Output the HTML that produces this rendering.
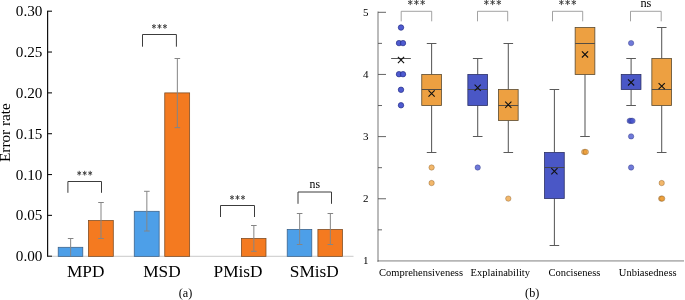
<!DOCTYPE html>
<html><head><meta charset="utf-8"><title>Figure</title>
<style>
html,body{margin:0;padding:0;background:#fff;}
body{width:685px;height:300px;overflow:hidden;font-family:"Liberation Serif",serif;}
svg{display:block;will-change:transform;opacity:0.999;}
svg text{font-family:"Liberation Serif",serif;fill:#000;}
</style></head><body>
<svg width="685" height="300" viewBox="0 0 685 300">
<rect width="685" height="300" fill="#fff"/>
<line x1="52" y1="256.40" x2="353.5" y2="256.40" stroke="#d4d4d4" stroke-width="1.1"/>
<rect x="58.20" y="247.30" width="24.60" height="9.05" fill="#4d9fe8" stroke="#3a5f86" stroke-width="0.75"/>
<rect x="88.40" y="220.50" width="24.90" height="35.85" fill="#f47a20" stroke="#7a4a22" stroke-width="0.75"/>
<rect x="134.25" y="211.30" width="24.90" height="45.05" fill="#4d9fe8" stroke="#3a5f86" stroke-width="0.75"/>
<rect x="164.75" y="92.90" width="24.90" height="163.45" fill="#f47a20" stroke="#7a4a22" stroke-width="0.75"/>
<rect x="241.40" y="238.40" width="24.60" height="17.95" fill="#f47a20" stroke="#7a4a22" stroke-width="0.75"/>
<rect x="287.20" y="229.40" width="24.60" height="26.95" fill="#4d9fe8" stroke="#3a5f86" stroke-width="0.75"/>
<rect x="317.90" y="229.40" width="24.60" height="26.95" fill="#f47a20" stroke="#7a4a22" stroke-width="0.75"/>
<path d="M70.65 238.50V256.00M67.85 238.50H73.45" stroke="#858585" stroke-width="1" fill="none"/>
<path d="M101.00 202.50V238.50M98.20 202.50H103.80M98.20 238.50H103.80" stroke="#858585" stroke-width="1" fill="none"/>
<path d="M146.85 191.30V231.00M144.05 191.30H149.65M144.05 231.00H149.65" stroke="#858585" stroke-width="1" fill="none"/>
<path d="M177.35 58.50V127.60M174.55 58.50H180.15M174.55 127.60H180.15" stroke="#858585" stroke-width="1" fill="none"/>
<path d="M253.85 225.50V251.30M251.05 225.50H256.65M251.05 251.30H256.65" stroke="#858585" stroke-width="1" fill="none"/>
<path d="M299.65 213.50V244.50M296.85 213.50H302.45M296.85 244.50H302.45" stroke="#858585" stroke-width="1" fill="none"/>
<path d="M330.35 213.50V244.50M327.55 213.50H333.15M327.55 244.50H333.15" stroke="#858585" stroke-width="1" fill="none"/>
<line x1="47.6" y1="10.70" x2="47.6" y2="256.80" stroke="#111" stroke-width="1.2"/>
<line x1="47.6" y1="256.20" x2="52" y2="256.20" stroke="#111" stroke-width="1.1"/>
<text x="42.4" y="261.30" font-size="15.2" text-anchor="end">0.00</text>
<line x1="47.6" y1="215.37" x2="52" y2="215.37" stroke="#111" stroke-width="1.1"/>
<text x="42.4" y="220.47" font-size="15.2" text-anchor="end">0.05</text>
<line x1="47.6" y1="174.53" x2="52" y2="174.53" stroke="#111" stroke-width="1.1"/>
<text x="42.4" y="179.63" font-size="15.2" text-anchor="end">0.10</text>
<line x1="47.6" y1="133.70" x2="52" y2="133.70" stroke="#111" stroke-width="1.1"/>
<text x="42.4" y="138.80" font-size="15.2" text-anchor="end">0.15</text>
<line x1="47.6" y1="92.87" x2="52" y2="92.87" stroke="#111" stroke-width="1.1"/>
<text x="42.4" y="97.97" font-size="15.2" text-anchor="end">0.20</text>
<line x1="47.6" y1="52.03" x2="52" y2="52.03" stroke="#111" stroke-width="1.1"/>
<text x="42.4" y="57.13" font-size="15.2" text-anchor="end">0.25</text>
<line x1="47.6" y1="11.20" x2="52" y2="11.20" stroke="#111" stroke-width="1.1"/>
<text x="42.4" y="16.30" font-size="15.2" text-anchor="end">0.30</text>
<text transform="translate(10.3 132.6) rotate(-90) scale(0.99 0.88)" font-size="15.4" text-anchor="middle">Error rate</text>
<text x="85.70" y="276.5" font-size="17.3" text-anchor="middle">MPD</text>
<text x="161.90" y="276.5" font-size="17.3" text-anchor="middle">MSD</text>
<text x="238.10" y="276.5" font-size="17.3" text-anchor="middle">PMisD</text>
<text x="314.30" y="276.5" font-size="17.3" text-anchor="middle">SMisD</text>
<text x="185.5" y="296.6" font-size="12.2" text-anchor="middle">(a)</text>
<path d="M67.90 192.80V181.50H101.50V192.80" stroke="#3c3c3c" stroke-width="1.0" fill="none"/>
<path d="M79.20 170.85L79.20 175.55M77.27 172.08L81.13 174.32M81.13 172.08L77.27 174.32" stroke="#3a3a3a" stroke-width="0.9" fill="none"/>
<path d="M84.70 170.85L84.70 175.55M82.77 172.08L86.63 174.32M86.63 172.08L82.77 174.32" stroke="#3a3a3a" stroke-width="0.9" fill="none"/>
<path d="M90.20 170.85L90.20 175.55M88.27 172.08L92.13 174.32M92.13 172.08L88.27 174.32" stroke="#3a3a3a" stroke-width="0.9" fill="none"/>
<path d="M142.50 46.70V34.50H176.40V46.70" stroke="#3c3c3c" stroke-width="1.0" fill="none"/>
<path d="M153.95 24.05L153.95 28.75M152.02 25.28L155.88 27.52M155.88 25.28L152.02 27.52" stroke="#3a3a3a" stroke-width="0.9" fill="none"/>
<path d="M159.45 24.05L159.45 28.75M157.52 25.28L161.38 27.52M161.38 25.28L157.52 27.52" stroke="#3a3a3a" stroke-width="0.9" fill="none"/>
<path d="M164.95 24.05L164.95 28.75M163.02 25.28L166.88 27.52M166.88 25.28L163.02 27.52" stroke="#3a3a3a" stroke-width="0.9" fill="none"/>
<path d="M220.50 217.00V205.50H254.50V217.00" stroke="#3c3c3c" stroke-width="1.0" fill="none"/>
<path d="M232.00 195.15L232.00 199.85M230.07 196.38L233.93 198.62M233.93 196.38L230.07 198.62" stroke="#3a3a3a" stroke-width="0.9" fill="none"/>
<path d="M237.50 195.15L237.50 199.85M235.57 196.38L239.43 198.62M239.43 196.38L235.57 198.62" stroke="#3a3a3a" stroke-width="0.9" fill="none"/>
<path d="M243.00 195.15L243.00 199.85M241.07 196.38L244.93 198.62M244.93 196.38L241.07 198.62" stroke="#3a3a3a" stroke-width="0.9" fill="none"/>
<path d="M298.00 203.80V192.00H331.50V203.80" stroke="#3c3c3c" stroke-width="1.0" fill="none"/>
<text x="314.75" y="187.80" font-size="11.8" text-anchor="middle" fill="#222">ns</text>
<line x1="378.0" y1="11.6" x2="378.0" y2="261.90" stroke="#b4b4b4" stroke-width="1.8"/>
<line x1="377.1" y1="260.80" x2="684" y2="260.80" stroke="#b6b6b6" stroke-width="1.7"/>
<line x1="377.7" y1="260.80" x2="379.0" y2="260.80" stroke="#666" stroke-width="0.9"/>
<text x="368.6" y="264.30" font-size="11" text-anchor="end">1</text>
<line x1="378.0" y1="229.83" x2="382.0" y2="229.83" stroke="#555" stroke-width="0.9"/>
<line x1="378.0" y1="198.75" x2="386.0" y2="198.75" stroke="#555" stroke-width="0.9"/>
<text x="368.6" y="202.15" font-size="11" text-anchor="end">2</text>
<line x1="378.0" y1="167.68" x2="382.0" y2="167.68" stroke="#555" stroke-width="0.9"/>
<line x1="378.0" y1="136.60" x2="386.0" y2="136.60" stroke="#555" stroke-width="0.9"/>
<text x="368.6" y="140.00" font-size="11" text-anchor="end">3</text>
<line x1="378.0" y1="105.52" x2="382.0" y2="105.52" stroke="#555" stroke-width="0.9"/>
<line x1="378.0" y1="74.45" x2="386.0" y2="74.45" stroke="#555" stroke-width="0.9"/>
<text x="368.6" y="77.85" font-size="11" text-anchor="end">4</text>
<line x1="378.0" y1="43.38" x2="382.0" y2="43.38" stroke="#555" stroke-width="0.9"/>
<line x1="378.0" y1="12.30" x2="386.0" y2="12.30" stroke="#555" stroke-width="0.9"/>
<text x="368.6" y="15.70" font-size="11" text-anchor="end">5</text>
<line x1="391.15" y1="58.50" x2="410.85" y2="58.50" stroke="#444" stroke-width="0.9"/>
<circle cx="401.00" cy="27.55" r="2.7" fill="#4653cd" fill-opacity="0.78" stroke="#1c2470" stroke-opacity="0.6" stroke-width="0.6"/>
<circle cx="401.00" cy="27.55" r="2.7" fill="#4653cd" fill-opacity="0.78" stroke="#1c2470" stroke-opacity="0.6" stroke-width="0.6"/>
<circle cx="399.00" cy="43.10" r="2.7" fill="#4653cd" fill-opacity="0.78" stroke="#1c2470" stroke-opacity="0.6" stroke-width="0.6"/>
<circle cx="399.00" cy="43.10" r="2.7" fill="#4653cd" fill-opacity="0.78" stroke="#1c2470" stroke-opacity="0.6" stroke-width="0.6"/>
<circle cx="403.00" cy="43.10" r="2.7" fill="#4653cd" fill-opacity="0.78" stroke="#1c2470" stroke-opacity="0.6" stroke-width="0.6"/>
<circle cx="403.00" cy="43.10" r="2.7" fill="#4653cd" fill-opacity="0.78" stroke="#1c2470" stroke-opacity="0.6" stroke-width="0.6"/>
<circle cx="399.00" cy="74.20" r="2.7" fill="#4653cd" fill-opacity="0.78" stroke="#1c2470" stroke-opacity="0.6" stroke-width="0.6"/>
<circle cx="399.00" cy="74.20" r="2.7" fill="#4653cd" fill-opacity="0.78" stroke="#1c2470" stroke-opacity="0.6" stroke-width="0.6"/>
<circle cx="403.00" cy="74.20" r="2.7" fill="#4653cd" fill-opacity="0.78" stroke="#1c2470" stroke-opacity="0.6" stroke-width="0.6"/>
<circle cx="403.00" cy="74.20" r="2.7" fill="#4653cd" fill-opacity="0.78" stroke="#1c2470" stroke-opacity="0.6" stroke-width="0.6"/>
<circle cx="401.00" cy="89.75" r="2.7" fill="#4653cd" fill-opacity="0.78" stroke="#1c2470" stroke-opacity="0.6" stroke-width="0.6"/>
<circle cx="401.00" cy="89.75" r="2.7" fill="#4653cd" fill-opacity="0.78" stroke="#1c2470" stroke-opacity="0.6" stroke-width="0.6"/>
<circle cx="401.00" cy="105.30" r="2.7" fill="#4653cd" fill-opacity="0.78" stroke="#1c2470" stroke-opacity="0.6" stroke-width="0.6"/>
<circle cx="401.00" cy="105.30" r="2.7" fill="#4653cd" fill-opacity="0.78" stroke="#1c2470" stroke-opacity="0.6" stroke-width="0.6"/>
<path d="M397.90 56.89L404.10 63.09M397.90 63.09L404.10 56.89" stroke="#111" stroke-width="1.1" fill="none"/>
<path d="M431.60 74.50V43.50M426.80 43.50H436.40" stroke="#5a5a5a" stroke-width="1.05" fill="none"/>
<path d="M431.60 105.50V152.50M426.80 152.50H436.40" stroke="#5a5a5a" stroke-width="1.05" fill="none"/>
<rect x="421.75" y="74.50" width="19.7" height="31.00" fill="#eda041" stroke="#5a4a30" stroke-width="0.8"/>
<line x1="421.75" y1="89.50" x2="441.45" y2="89.50" stroke="#444" stroke-width="0.9"/>
<circle cx="431.60" cy="167.50" r="2.7" fill="#ec9628" fill-opacity="0.69" stroke="#6a400c" stroke-opacity="0.55" stroke-width="0.6"/>
<circle cx="431.60" cy="183.05" r="2.7" fill="#ec9628" fill-opacity="0.69" stroke="#6a400c" stroke-opacity="0.55" stroke-width="0.6"/>
<path d="M428.50 90.48L434.70 96.68M428.50 96.68L434.70 90.48" stroke="#111" stroke-width="1.1" fill="none"/>
<path d="M477.70 74.50V58.50M472.90 58.50H482.50" stroke="#5a5a5a" stroke-width="1.05" fill="none"/>
<path d="M477.70 105.50V136.50M472.90 136.50H482.50" stroke="#5a5a5a" stroke-width="1.05" fill="none"/>
<rect x="467.85" y="74.50" width="19.7" height="31.00" fill="#4a57c6" stroke="#2b3066" stroke-width="0.8"/>
<line x1="467.85" y1="89.50" x2="487.55" y2="89.50" stroke="#444" stroke-width="0.9"/>
<circle cx="477.70" cy="167.50" r="2.7" fill="#4653cd" fill-opacity="0.78" stroke="#1c2470" stroke-opacity="0.6" stroke-width="0.6"/>
<path d="M474.60 84.57L480.80 90.77M474.60 90.77L480.80 84.57" stroke="#111" stroke-width="1.1" fill="none"/>
<path d="M508.30 89.50V43.50M503.50 43.50H513.10" stroke="#5a5a5a" stroke-width="1.05" fill="none"/>
<path d="M508.30 120.50V152.50M503.50 152.50H513.10" stroke="#5a5a5a" stroke-width="1.05" fill="none"/>
<rect x="498.45" y="89.50" width="19.7" height="31.00" fill="#eda041" stroke="#5a4a30" stroke-width="0.8"/>
<line x1="498.45" y1="105.50" x2="518.15" y2="105.50" stroke="#444" stroke-width="0.9"/>
<circle cx="508.30" cy="198.60" r="2.7" fill="#ec9628" fill-opacity="0.69" stroke="#6a400c" stroke-opacity="0.55" stroke-width="0.6"/>
<path d="M505.20 101.68L511.40 107.88M505.20 107.88L511.40 101.68" stroke="#111" stroke-width="1.1" fill="none"/>
<path d="M554.40 152.50V89.50M549.60 89.50H559.20" stroke="#5a5a5a" stroke-width="1.05" fill="none"/>
<path d="M554.40 198.50V245.50M549.60 245.50H559.20" stroke="#5a5a5a" stroke-width="1.05" fill="none"/>
<rect x="544.55" y="152.50" width="19.7" height="46.00" fill="#4a57c6" stroke="#2b3066" stroke-width="0.8"/>
<line x1="544.55" y1="167.50" x2="564.25" y2="167.50" stroke="#444" stroke-width="0.9"/>
<path d="M551.30 168.23L557.50 174.43M551.30 174.43L557.50 168.23" stroke="#111" stroke-width="1.1" fill="none"/>
<path d="M585.00 74.50V136.50M580.20 136.50H589.80" stroke="#5a5a5a" stroke-width="1.05" fill="none"/>
<rect x="575.15" y="27.50" width="19.7" height="47.00" fill="#eda041" stroke="#5a4a30" stroke-width="0.8"/>
<line x1="575.15" y1="43.50" x2="594.85" y2="43.50" stroke="#444" stroke-width="0.9"/>
<circle cx="584.20" cy="151.95" r="2.7" fill="#ec9628" fill-opacity="0.69" stroke="#6a400c" stroke-opacity="0.55" stroke-width="0.6"/>
<circle cx="585.80" cy="151.95" r="2.7" fill="#ec9628" fill-opacity="0.69" stroke="#6a400c" stroke-opacity="0.55" stroke-width="0.6"/>
<path d="M581.90 51.30L588.10 57.50M581.90 57.50L588.10 51.30" stroke="#111" stroke-width="1.1" fill="none"/>
<path d="M631.10 74.50V58.50M626.30 58.50H635.90" stroke="#5a5a5a" stroke-width="1.05" fill="none"/>
<path d="M631.10 89.50V105.50M626.30 105.50H635.90" stroke="#5a5a5a" stroke-width="1.05" fill="none"/>
<rect x="621.25" y="74.50" width="19.7" height="15.00" fill="#4a57c6" stroke="#2b3066" stroke-width="0.8"/>
<circle cx="631.10" cy="43.10" r="2.7" fill="#4653cd" fill-opacity="0.78" stroke="#1c2470" stroke-opacity="0.6" stroke-width="0.6"/>
<circle cx="629.70" cy="120.85" r="2.7" fill="#4653cd" fill-opacity="0.78" stroke="#1c2470" stroke-opacity="0.6" stroke-width="0.6"/>
<circle cx="631.10" cy="120.85" r="2.7" fill="#4653cd" fill-opacity="0.78" stroke="#1c2470" stroke-opacity="0.6" stroke-width="0.6"/>
<circle cx="632.50" cy="120.85" r="2.7" fill="#4653cd" fill-opacity="0.78" stroke="#1c2470" stroke-opacity="0.6" stroke-width="0.6"/>
<circle cx="631.10" cy="136.40" r="2.7" fill="#4653cd" fill-opacity="0.78" stroke="#1c2470" stroke-opacity="0.6" stroke-width="0.6"/>
<circle cx="631.10" cy="167.50" r="2.7" fill="#4653cd" fill-opacity="0.78" stroke="#1c2470" stroke-opacity="0.6" stroke-width="0.6"/>
<path d="M628.00 79.29L634.20 85.49M628.00 85.49L634.20 79.29" stroke="#111" stroke-width="1.1" fill="none"/>
<path d="M661.70 58.50V27.50M656.90 27.50H666.50" stroke="#5a5a5a" stroke-width="1.05" fill="none"/>
<path d="M661.70 105.50V152.50M656.90 152.50H666.50" stroke="#5a5a5a" stroke-width="1.05" fill="none"/>
<rect x="651.85" y="58.50" width="19.7" height="47.00" fill="#eda041" stroke="#5a4a30" stroke-width="0.8"/>
<line x1="651.85" y1="89.50" x2="671.55" y2="89.50" stroke="#444" stroke-width="0.9"/>
<circle cx="661.70" cy="183.05" r="2.7" fill="#ec9628" fill-opacity="0.69" stroke="#6a400c" stroke-opacity="0.55" stroke-width="0.6"/>
<circle cx="661.20" cy="198.60" r="2.7" fill="#ec9628" fill-opacity="0.69" stroke="#6a400c" stroke-opacity="0.55" stroke-width="0.6"/>
<circle cx="662.20" cy="198.60" r="2.7" fill="#ec9628" fill-opacity="0.69" stroke="#6a400c" stroke-opacity="0.55" stroke-width="0.6"/>
<path d="M658.60 83.02L664.80 89.22M658.60 89.22L664.80 83.02" stroke="#111" stroke-width="1.1" fill="none"/>
<path d="M401.20 21.30V11.30H431.70V21.30" stroke="#8a8a8a" stroke-width="0.8" fill="none"/>
<path d="M410.25 -0.30L410.25 5.10M408.03 1.12L412.47 3.68M412.47 1.12L408.03 3.68" stroke="#3a3a3a" stroke-width="0.9" fill="none"/>
<path d="M416.45 -0.30L416.45 5.10M414.23 1.12L418.67 3.68M418.67 1.12L414.23 3.68" stroke="#3a3a3a" stroke-width="0.9" fill="none"/>
<path d="M422.65 -0.30L422.65 5.10M420.43 1.12L424.87 3.68M424.87 1.12L420.43 3.68" stroke="#3a3a3a" stroke-width="0.9" fill="none"/>
<path d="M477.50 21.30V11.30H507.70V21.30" stroke="#8a8a8a" stroke-width="0.8" fill="none"/>
<path d="M486.40 -0.30L486.40 5.10M484.18 1.12L488.62 3.68M488.62 1.12L484.18 3.68" stroke="#3a3a3a" stroke-width="0.9" fill="none"/>
<path d="M492.60 -0.30L492.60 5.10M490.38 1.12L494.82 3.68M494.82 1.12L490.38 3.68" stroke="#3a3a3a" stroke-width="0.9" fill="none"/>
<path d="M498.80 -0.30L498.80 5.10M496.58 1.12L501.02 3.68M501.02 1.12L496.58 3.68" stroke="#3a3a3a" stroke-width="0.9" fill="none"/>
<path d="M552.50 21.30V11.30H582.70V21.30" stroke="#8a8a8a" stroke-width="0.8" fill="none"/>
<path d="M561.40 -0.30L561.40 5.10M559.18 1.12L563.62 3.68M563.62 1.12L559.18 3.68" stroke="#3a3a3a" stroke-width="0.9" fill="none"/>
<path d="M567.60 -0.30L567.60 5.10M565.38 1.12L569.82 3.68M569.82 1.12L565.38 3.68" stroke="#3a3a3a" stroke-width="0.9" fill="none"/>
<path d="M573.80 -0.30L573.80 5.10M571.58 1.12L576.02 3.68M576.02 1.12L571.58 3.68" stroke="#3a3a3a" stroke-width="0.9" fill="none"/>
<path d="M630.50 21.30V11.30H661.20V21.30" stroke="#8a8a8a" stroke-width="0.8" fill="none"/>
<text x="645.85" y="6.80" font-size="12.3" text-anchor="middle" fill="#222">ns</text>
<text x="421" y="276.4" font-size="10.5" text-anchor="middle">Comprehensiveness</text>
<text x="500.3" y="276.4" font-size="10.5" text-anchor="middle">Explainability</text>
<text x="574.4" y="276.4" font-size="10.5" text-anchor="middle">Conciseness</text>
<text x="647.7" y="276.4" font-size="10.5" text-anchor="middle">Unbiasedness</text>
<text x="532.2" y="297.0" font-size="12.2" text-anchor="middle">(b)</text>
</svg>
</body></html>
